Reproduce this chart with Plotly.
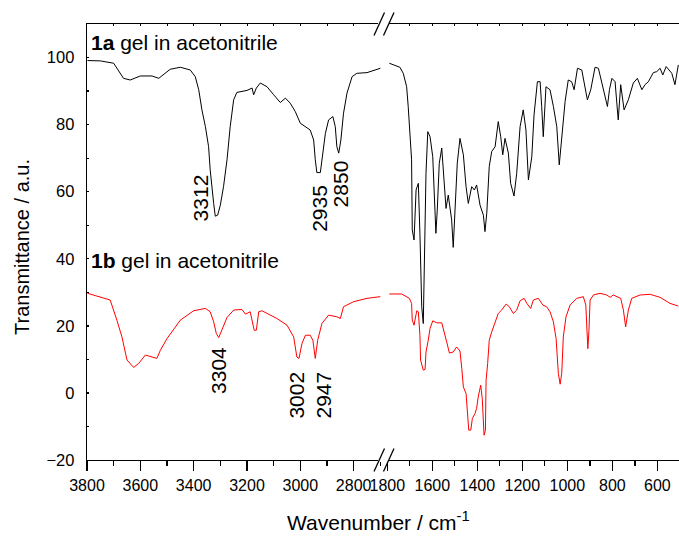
import plotly.graph_objects as go

# ---- data: 1a gel (black), high-wavenumber region
wn_1a_hi = [3798, 3750, 3700, 3663, 3638, 3600, 3556, 3531, 3488, 3450, 3413, 3394, 3381, 3369, 3356, 3344,
            3338, 3331, 3325, 3319, 3310, 3300, 3288, 3275, 3263, 3250, 3238, 3200, 3181, 3175, 3165, 3150,
            3125, 3100, 3075, 3056, 3038, 3019, 3000, 2963, 2950, 2944, 2938, 2925, 2915, 2906, 2894, 2878,
            2869, 2863, 2856, 2848, 2838, 2825, 2806, 2788, 2750, 2700]
t_1a_hi = [99.1, 99.0, 98.3, 93.8, 93.3, 94.5, 94.5, 93.8, 96.5, 97.1, 96.3, 94.3, 90.4, 84.4, 79.4, 73.4,
           66.5, 60.5, 56.5, 52.7, 53.0, 56.0, 61.5, 69.5, 79.4, 87.4, 89.6, 90.2, 90.9, 88.9, 90.9, 92.4,
           91.3, 88.9, 86.6, 87.9, 86.4, 83.9, 80.4, 78.4, 75.4, 69.5, 65.7, 65.7, 71.5, 77.4, 81.4, 82.4,
           79.4, 73.4, 71.5, 75.4, 83.4, 89.4, 94.3, 95.3, 95.5, 96.8]

# ---- data: 1a gel (black), fingerprint region
wn_1a_lo = [1791, 1744, 1729, 1714, 1707, 1699, 1692, 1689, 1681, 1672, 1662, 1655, 1647, 1640, 1636, 1628,
            1620, 1610, 1598, 1588, 1584, 1578, 1569, 1558, 1548, 1539, 1529, 1521, 1514, 1507, 1499, 1489,
            1477, 1462, 1450, 1440, 1425, 1413, 1403, 1388, 1373, 1366, 1358, 1347, 1336, 1321, 1307, 1296,
            1287, 1277, 1262, 1252, 1237, 1225, 1210, 1196, 1184, 1173, 1158, 1148, 1133, 1121, 1114, 1107,
            1095, 1077, 1062, 1047, 1036, 1025, 1010, 996, 981, 970, 955, 936, 921, 911, 896, 877, 862, 847,
            832, 822, 813, 802, 788, 774, 763, 748, 729, 707, 689, 669, 655, 640, 618, 603, 588, 576, 561,
            547, 536, 522, 507]
t_1a_lo = [98.3, 97.1, 95.3, 91.3, 85.4, 75.4, 69.5, 48.6, 45.6, 60.5, 62.5, 47.6, 25.7, 20.7, 35.6, 65.5,
           77.9, 76.4, 70.4, 53.6, 47.6, 54.5, 68.5, 73.0, 63.5, 55.0, 59.0, 55.0, 51.6, 43.4, 53.6, 68.5,
           75.9, 71.0, 61.5, 56.5, 61.5, 60.5, 62.0, 56.0, 53.0, 48.1, 53.6, 67.5, 72.0, 73.4, 80.9, 76.4,
           71.0, 75.9, 71.5, 62.5, 58.7, 65.5, 79.4, 84.4, 78.4, 63.5, 70.4, 82.9, 92.8, 92.8, 85.4, 76.4,
           91.3, 90.4, 85.4, 79.4, 68.0, 75.4, 86.9, 93.3, 92.8, 90.4, 96.8, 96.3, 91.3, 87.4, 90.4, 97.1,
           96.8, 92.4, 87.9, 85.4, 90.4, 93.8, 92.8, 81.4, 91.9, 84.4, 87.4, 92.4, 93.8, 90.4, 91.9, 92.8,
           95.5, 95.8, 96.8, 94.8, 97.3, 96.3, 95.3, 91.9, 97.8]

# ---- data: 1b gel (red), high-wavenumber region
wn_1b_hi = [3798, 3713, 3688, 3669, 3650, 3625, 3606, 3581, 3556, 3538, 3525, 3500, 3450, 3400, 3356, 3338,
            3325, 3315, 3306, 3294, 3275, 3250, 3219, 3206, 3188, 3173, 3165, 3156, 3144, 3088, 3050, 3025,
            3013, 3005, 2994, 2981, 2963, 2953, 2944, 2935, 2919, 2894, 2863, 2850, 2838, 2800, 2750, 2700]
t_1b_hi = [29.7, 27.7, 21.7, 16.7, 9.8, 7.6, 8.8, 11.3, 10.7, 10.3, 12.7, 16.2, 21.7, 24.5, 25.2, 24.2,
           21.2, 17.7, 16.5, 18.7, 22.5, 24.7, 24.9, 23.5, 24.2, 18.7, 18.7, 24.2, 24.5, 22.2, 20.2, 16.7,
           10.7, 10.3, 14.7, 17.2, 17.2, 15.7, 10.3, 15.7, 20.7, 23.2, 22.7, 22.2, 25.7, 27.2, 28.2, 28.7]

# ---- data: 1b gel (red), fingerprint region
wn_1b_lo = [1791, 1736, 1702, 1692, 1689, 1681, 1677, 1669, 1662, 1655, 1652, 1640, 1632, 1628, 1618, 1610,
            1598, 1580, 1558, 1544, 1536, 1524, 1507, 1492, 1477, 1469, 1462, 1450, 1443, 1438, 1429, 1422,
            1410, 1403, 1396, 1385, 1378, 1370, 1364, 1361, 1354, 1347, 1336, 1321, 1307, 1292, 1272, 1258,
            1240, 1225, 1210, 1192, 1180, 1163, 1151, 1129, 1109, 1092, 1077, 1062, 1050, 1040, 1032, 1025,
            1018, 1006, 988, 958, 929, 918, 914, 909, 904, 899, 884, 855, 825, 810, 796, 780, 763, 751, 741,
            729, 714, 677, 632, 588, 544, 507]
t_1b_lo = [29.5, 29.5, 28.2, 26.7, 21.7, 20.2, 21.7, 24.5, 24.2, 17.2, 9.8, 6.8, 7.0, 12.2, 15.7, 19.2,
           21.5, 20.9, 20.9, 17.7, 15.2, 11.9, 12.2, 13.7, 12.5, 7.3, 1.8, -0.2, -7.2, -11.1, -11.1, -7.6,
           -6.1, -4.6, -1.2, 2.3, -1.7, -12.6, -11.1, 3.8, 8.8, 15.7, 18.2, 21.2, 23.7, 24.7, 26.5, 25.7,
           23.7, 24.7, 27.5, 28.2, 26.7, 25.2, 27.7, 28.2, 26.2, 25.7, 24.2, 21.2, 16.2, 5.8, 2.6, 5.8,
           16.7, 22.7, 26.2, 28.2, 28.7, 26.2, 18.7, 13.2, 18.7, 27.7, 29.2, 29.7, 29.2, 28.5, 29.2, 28.7,
           28.2, 24.7, 19.7, 24.7, 28.2, 29.2, 29.4, 28.5, 26.7, 25.9]

# ---- labels
series_labels = ["1a", "1b"]
peaks_1a = [("3312", 3375, 58.1), ("2935", 2931, 55.1), ("2850", 2846, 62.3)]
peaks_1b = [("3304", 3307, 6.7), ("3002", 3015, -0.7), ("2947", 2914, -0.7)]
x_title = "Wavenumber / cm<sup>-1</sup>"
y_title = "Transmittance / a.u."

FONT = "Liberation Sans, Arial, sans-serif"
L, T, W, H = 87, 24, 592, 436  # plot area in pixels


def px_x(p):
    return (p - L) / W


def px_y(p):
    return (T + H - p) / H


fig = go.Figure()
fig.add_trace(go.Scatter(x=wn_1a_hi, y=t_1a_hi, xaxis="x", yaxis="y", mode="lines",
                         line=dict(color="black", width=1)))
fig.add_trace(go.Scatter(x=wn_1a_lo, y=t_1a_lo, xaxis="x2", yaxis="y", mode="lines",
                         line=dict(color="black", width=1)))
fig.add_trace(go.Scatter(x=wn_1b_hi, y=t_1b_hi, xaxis="x", yaxis="y", mode="lines",
                         line=dict(color="red", width=1)))
fig.add_trace(go.Scatter(x=wn_1b_lo, y=t_1b_lo, xaxis="x2", yaxis="y", mode="lines",
                         line=dict(color="red", width=1)))
# invisible carriers so the top axes (inward minor ticks) get drawn
fig.add_trace(go.Scatter(x=wn_1a_hi, y=t_1a_hi, xaxis="x3", yaxis="y", mode="lines",
                         line=dict(width=0), opacity=0))
fig.add_trace(go.Scatter(x=wn_1a_lo, y=t_1a_lo, xaxis="x4", yaxis="y", mode="lines",
                         line=dict(width=0), opacity=0))

ax_common = dict(showgrid=False, zeroline=False, showline=True, mirror=True, linecolor="black",
                 linewidth=1.3, ticks="outside", ticklen=10, tickwidth=1.3, tickcolor="black", dtick=200,
                 automargin=False,
                 tickfont=dict(family=FONT, size=16, color="black"),
                 minor=dict(ticks="outside", ticklen=5, tickwidth=1.3, tickcolor="black", dtick=100))
top_common = dict(showgrid=False, zeroline=False, showline=True, linecolor="black", linewidth=1.3,
                  ticks="inside", ticklen=2, tickwidth=1, tickcolor="black", dtick=100,
                  showticklabels=False, side="top", automargin=False)

fig.update_layout(
    width=679, height=536,
    margin=dict(l=L, r=0, t=T, b=536 - T - H, autoexpand=False),
    paper_bgcolor="white", plot_bgcolor="white",
    showlegend=False, hovermode=False,
    font=dict(family=FONT, color="black"),
    xaxis=dict(domain=[0, 0.5], range=[3800, 2690], anchor="y", **ax_common),
    xaxis2=dict(domain=[0.5, 1], range=[1819, 504], anchor="y", **ax_common),
    xaxis3=dict(domain=[0, 0.5], range=[3800, 2690], anchor="y", overlaying="x", **top_common),
    xaxis4=dict(domain=[0.5, 1], range=[1819, 504], anchor="y", overlaying="x2", **top_common),
    yaxis=dict(range=[-20, 110], dtick=20, showgrid=False, zeroline=False, showline=True,
               linecolor="black", linewidth=1.3, ticks="inside", ticklen=2, tickwidth=1.3,
               tickcolor="black", ticklabelstandoff=8, automargin=False,
               tickfont=dict(family=FONT, size=16.5, color="black"),
               minor=dict(ticks="inside", ticklen=2, dtick=10, tickcolor="black", tickwidth=1.3)),
)

annotations = []
annotations.append(dict(xref="paper", yref="y", x=px_x(89), y=104.4, xanchor="left", yanchor="middle",
                        text="<b>%s</b> gel in acetonitrile" % series_labels[0], showarrow=False,
                        font=dict(family=FONT, size=21, color="black")))
annotations.append(dict(xref="paper", yref="y", x=px_x(89), y=39.5, xanchor="left", yanchor="middle",
                        text="<b>%s</b> gel in acetonitrile" % series_labels[1], showarrow=False,
                        font=dict(family=FONT, size=21, color="black")))
for txt, xv, yv in peaks_1a + peaks_1b:
    annotations.append(dict(xref="x", yref="y", x=xv, y=yv, text=txt, textangle=-90, showarrow=False,
                            xanchor="center", yanchor="middle",
                            font=dict(family=FONT, size=21, color="black")))
annotations.append(dict(xref="paper", yref="paper", x=px_x(378), y=px_y(521),
                        text=x_title, showarrow=False, xanchor="center", yanchor="middle",
                        font=dict(family=FONT, size=21, color="black")))
annotations.append(dict(xref="paper", yref="paper", x=px_x(22), y=px_y(247),
                        text=y_title, textangle=-90, showarrow=False, xanchor="center", yanchor="middle",
                        font=dict(family=FONT, size=20, color="black")))
fig.update_layout(annotations=annotations)

# axis-break marks (decoration)
shapes = []
for yline in (T, T + H):
    shapes.append(dict(type="rect", xref="paper", yref="paper", layer="above",
                       x0=px_x(378), x1=px_x(389),
                       y0=px_y(yline + 2), y1=px_y(yline - 2),
                       fillcolor="white", line=dict(width=0)))
    for dx in (0, 9.5):
        shapes.append(dict(type="line", xref="paper", yref="paper", layer="above",
                           x0=px_x(374 + dx), y0=px_y(yline + 11.5),
                           x1=px_x(384.5 + dx), y1=px_y(yline - 11.5),
                           line=dict(color="black", width=1.3)))
fig.update_layout(shapes=shapes)

fig.write_html("out.html", config={"displayModeBar": False, "staticPlot": True},
               post_script="document.body.style.margin='0';document.body.style.overflow='hidden';")
